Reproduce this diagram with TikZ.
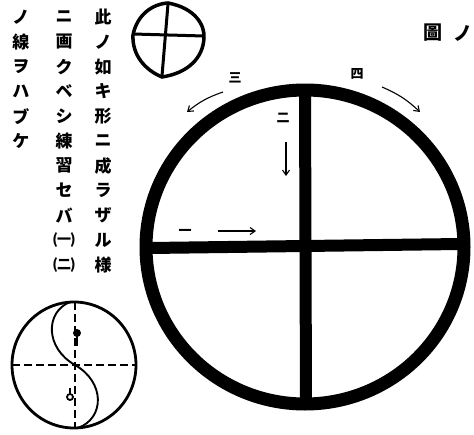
\documentclass[tikz,border=0pt]{standalone}
\usepackage{fontspec}
\newfontfamily\jp{Noto Sans CJK JP}
\usetikzlibrary{arrows.meta}
\begin{document}
\begin{tikzpicture}[x=1pt,y=-1pt,
  colchar/.style={font=\jp\bfseries\fontsize{17}{17}\selectfont, inner sep=0pt},
  smallchar/.style={font=\jp\bfseries\fontsize{14}{14}\selectfont, inner sep=0pt},
  lbl/.style={font=\jp\bfseries\fontsize{13}{13}\selectfont, inner sep=0pt},
  head/.style={font=\jp\bfseries\fontsize{19}{19}\selectfont, inner sep=0pt},
  thin arrow/.style={line width=1.1pt, -{Straight Barb[length=5pt,width=7pt]}},
]
\useasboundingbox (0,0) rectangle (474,434);
\clip (0,0) rectangle (474,434);

% vertical text columns
\foreach \c [count=\i] in {此,ノ,如,キ,形,ニ,成,ラ,ザ,ル,様}
  \node[colchar] (a\i) at (103,{17+24.8*(\i-1)}) {\c};
\foreach \c [count=\i] in {ニ,画,ク,ベ,シ,練,習,セ,バ}
  \node[colchar] (b\i) at (64,{17+24.8*(\i-1)}) {\c};
\node[smallchar] (b10) at (64,{17+24.8*9}) {(\kern-1pt 一\kern-1pt)};
\node[smallchar] (b11) at (64,{17+24.8*10}) {(\kern-1pt 二\kern-1pt)};
\foreach \c [count=\i] in {ノ,線,ヲ,ハ,ブ,ケ}
  \node[colchar] (c\i) at (21,{17+24.8*(\i-1)}) {\c};

% heading
\node[head] (h1) at (433,33) {圖};
\node[head] (h2) at (463,33) {ノ};

% small figure top
\draw[line width=3.5pt] (168,3) .. controls (195,8) and (205,25) .. (204,38)
  .. controls (203,58) and (188,73) .. (162,77)
  .. controls (145,70) and (132,55) .. (133,35)
  .. controls (137,15) and (152,4) .. (168,3) -- cycle;
\draw[line width=3pt] (168,4) -- (162,76);
\draw[line width=3pt] (133,34) -- (204,36);

% yin-yang figure
\draw[line width=2.8pt] (74,365) ellipse (62 and 63);
\draw[line width=1.3pt, dash pattern=on 8pt off 4pt] (75,302) -- (75,428);
\draw[line width=1.3pt, dash pattern=on 8pt off 4pt] (12,365) -- (137,365);
\draw[line width=1.9pt] (70,302) .. controls (45,312) and (45,348) .. (75,365)
  .. controls (105,382) and (105,418) .. (78,428);
\fill (77,333) circle (4);
\draw[line width=1.5pt] (77,333) -- (77,346);
\draw[line width=1.8pt] (70,397) circle (3);
\draw[line width=1.2pt] (70,388) -- (70,394);

% big figure
\draw[line width=13pt] (305,247) ellipse (159 and 157);
\draw[line width=12pt] (305,90) -- (306,404);
\draw[line width=12pt] (150,248) -- (460,244);

% labels and arrows
\node[lbl] (l3) at (235,78) {三};
\node[lbl] (l4) at (357,74) {四};
\node[lbl] (l2) at (283,118) {二};
\node[lbl] (l1) at (185,232) {一};
\coordinate (p3a) at (223,92);
\coordinate (p3b) at (187,112);
\coordinate (p4a) at (382,87);
\coordinate (p4b) at (420,112);
\coordinate (p2a) at (286,142);
\coordinate (p2b) at (286,176);
\coordinate (p1a) at (218,231);
\coordinate (p1b) at (256,231);
\draw[thin arrow] (p3a) to[bend right=10] (p3b);
\draw[thin arrow] (p4a) to[bend left=10] (p4b);
\draw[thin arrow] (p2a) -- (p2b);
\draw[thin arrow] (p1a) -- (p1b);
\end{tikzpicture}
\end{document}
